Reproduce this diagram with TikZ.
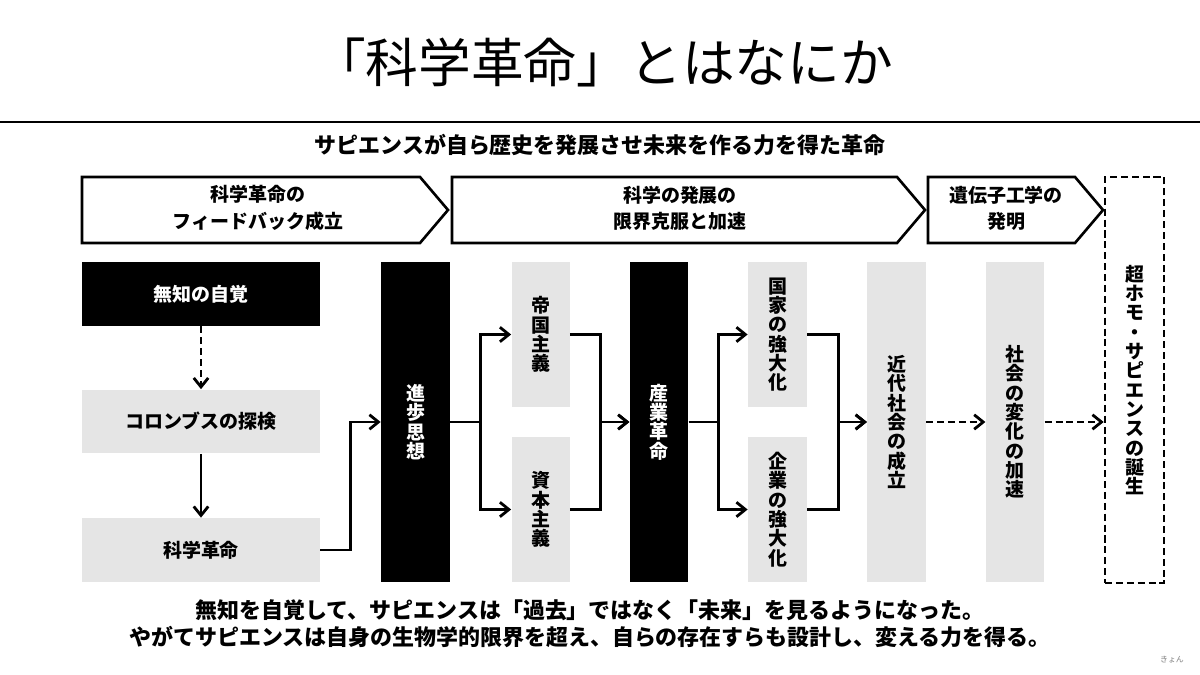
\documentclass[tikz,border=0pt]{standalone}
\usepackage{fontspec}
\setmainfont{Noto Sans CJK JP}
\usepackage{tikz}
\usetikzlibrary{arrows.meta, positioning}
\definecolor{boxgray}{gray}{0.9}

\begin{document}
\begin{tikzpicture}[x=0.02cm, y=-0.02cm,
    boxfont/.style={font=\fontsize{10.8}{11}\selectfont\bfseries},
    blackbox/.style={fill=black, text=white, inner sep=0pt, boxfont},
    graybox/.style={fill=boxgray, text=black, inner sep=0pt, boxfont},
    wide/.style={minimum width=4.76cm, minimum height=1.28cm},
    tall/.style={minimum width=1.17cm, minimum height=6.4cm, align=center},
    half/.style={minimum width=1.16cm, minimum height=2.9cm, align=center},
    stage/.style={draw, line width=1.5pt, fill=white},
    stagetext/.style={align=center, font=\fontsize{10.8}{15}\selectfont\bfseries},
    arr/.style={-{Straight Barb[length=1.8mm, width=2.9mm]}, line width=1.6pt},
    darr/.style={arr, dash pattern=on 4pt off 2.2pt}]
        \useasboundingbox (0,0) rectangle (1200,675);

        % Title
        \node (title) at (603,62) {\fontsize{30}{32}\selectfont 「科学革命」とはなにか};
        \draw[line width=1.2pt] (0,122) -- (1200,122);
        \node (sub) at (600,145) {\fontsize{12.5}{14}\selectfont\bfseries サピエンスが自ら歴史を発展させ未来を作る力を得た革命};

        % Stages
        \draw[stage] (82,177) -- (420,177) -- (448,210) -- (420,243) -- (82,243) -- cycle;
        \draw[stage] (452,177) -- (897,177) -- (925,210) -- (897,243) -- (452,243) -- cycle;
        \draw[stage] (928,177) -- (1075,177) -- (1103,210) -- (1075,243) -- (928,243) -- cycle;
        \node (st1) [stagetext] at (258,208) {科学革命の\\フィードバック成立};
        \node (st2) [stagetext] at (680,208) {科学の発展の\\限界克服と加速};
        \node (st3) [stagetext] at (1006,208) {遺伝子工学の\\発明};

        % Nodes
        \node (muchi) [blackbox, wide] at (201,294) {無知の自覚};
        \node (colon) [graybox, wide] at (201,421.5) {コロンブスの探検};
        \node (kagaku) [graybox, wide] at (201,550) {科学革命};

        \node (shinpo) [blackbox, tall, minimum width=1.38cm] at (415.5,422) {進\\歩\\思\\想};
        \node (teikoku) [graybox, half] at (540.5,334.5) {帝\\国\\主\\義};
        \node (shihon) [graybox, half] at (540.5,509.5) {資\\本\\主\\義};
        \node (sangyo) [blackbox, tall] at (659,422) {産\\業\\革\\命};
        \node (kokka) [graybox, half, minimum width=1.18cm] at (777.5,334.5) {国\\家\\の\\強\\大\\化};
        \node (kigyo) [graybox, half, minimum width=1.18cm] at (777.5,509.5) {企\\業\\の\\強\\大\\化};
        \node (kindai) [graybox, tall] at (896.5,422) {近\\代\\社\\会\\の\\成\\立};
        \node (henka) [graybox, tall] at (1015,422) {社\\会\\の\\変\\化\\の\\加\\速};
        \node (chohomo) [draw, dash pattern=on 4pt off 2.2pt, line width=1.5pt, inner sep=0pt,
            minimum width=1.18cm, minimum height=8.12cm, align=center, boxfont] at (1134.5,380)
            {超\\ホ\\モ\\・\\サ\\ピ\\エ\\ン\\ス\\の\\誕\\生};

        % Arrows
        \draw[darr] (muchi) -- (colon);
        \draw[arr] (colon) -- (kagaku);
        \draw[arr] (kagaku.east) -- ++(30,0) |- (shinpo.west);
        \draw[arr] (shinpo.east) -- ++(30,0) |- (teikoku.west);
        \draw[arr] (shinpo.east) -- ++(30,0) |- (shihon.west);
        \draw[arr] (teikoku.east) -- ++(31,0) |- (sangyo.west);
        \draw[arr] (shihon.east) -- ++(31,0) |- (sangyo.west);
        \draw[arr] (sangyo.east) -- ++(30,0) |- (kokka.west);
        \draw[arr] (sangyo.east) -- ++(30,0) |- (kigyo.west);
        \draw[arr] (kokka.east) -- ++(31,0) |- (kindai.west);
        \draw[arr] (kigyo.east) -- ++(31,0) |- (kindai.west);
        \draw[darr] (kindai) -- (henka);
        \draw[darr] (henka.east) -- (chohomo.west |- henka.east);

        % Summary
        \node (summary) [align=center, font=\fontsize{12.5}{15.3}\selectfont\bfseries] at (590,624)
            {無知を自覚して、サピエンスは「過去」ではなく「未来」を見るようになった。\\
             やがてサピエンスは自身の生物学的限界を超え、自らの存在すらも設計し、変える力を得る。};
        \node (sign) [text=gray, font=\fontsize{4.5}{5}\selectfont] at (1172,660) {きょん};
    \end{tikzpicture}
\end{document}
